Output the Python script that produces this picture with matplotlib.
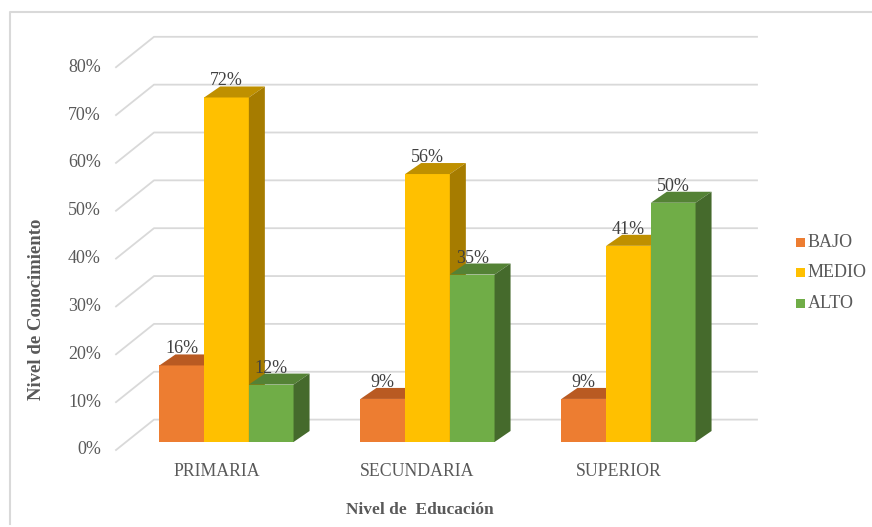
import matplotlib
matplotlib.use("Agg")
import matplotlib.pyplot as plt
from matplotlib.patches import Polygon, Rectangle

categories = ["PRIMARIA", "SECUNDARIA", "SUPERIOR"]
series = ["BAJO", "MEDIO", "ALTO"]
bajo = [16, 9, 9]
medio = [72, 56, 41]
alto = [12, 35, 50]
yticks = [0, 10, 20, 30, 40, 50, 60, 70, 80]

front_cols = ["#ED7D31", "#FFC000", "#70AD47"]
top_cols = ["#B95A22", "#BF9000", "#548235"]
side_cols = ["#A24B1B", "#A67C00", "#456A2C"]

plt.rcParams['font.family'] = ['Liberation Serif', 'DejaVu Serif']

W, H = 872, 527
fig = plt.figure(figsize=(W / 100, H / 100), dpi=100)
ax = fig.add_axes([0, 0, 1, 1])
# 1 category unit = 201 px, 1 % = 4.785 px ; origin at bar front plane
ax.set_xlim(-226.5 / 201, (W - 226.5) / 201)
ax.set_ylim((442 - H) / 4.785, 442 / 4.785)
ax.axis("off")

pxx = 1 / 201.0
pxy = 1 / 4.785
# depth offsets (data units)
fdx, fdy = -10 * pxx, -8 * pxy      # front plane (labels)
wdx, wdy = 28 * pxx, 22.4 * pxy     # back wall
bdx, bdy = 16 * pxx, 11 * pxy       # bar depth

grid_c = "#D9D9D9"
txt_c = "#595959"

# outer chart border
ax.plot([10 * pxx - 226.5 / 201, 10 * pxx - 226.5 / 201, W * pxx],
        [(442 - H) / 4.785 + 3 * pxy, 442 / 4.785 - 12 * pxy, 442 / 4.785 - 12 * pxy],
        color=grid_c, lw=1.5, zorder=0, clip_on=False)

x0, x1 = -0.5, len(categories) - 0.5
for v in yticks:
    ax.plot([x0 + fdx, x0 + wdx, x1 + wdx], [v + fdy, v + wdy, v + wdy],
            color=grid_c, lw=1.3, zorder=1)
    ax.text(x0 + fdx - 15 * pxx, v + fdy, f"{v}%", ha="right", va="center",
            fontsize=13, color=txt_c)

bw = 44.7 * pxx
vals = [bajo, medio, alto]
for i, cat in enumerate(categories):
    for j in range(3):
        v = vals[j][i]
        xl = i + (j - 1.5) * bw
        xr = xl + bw
        z = 5 + j
        ax.add_patch(Rectangle((xl, 0), bw, v, facecolor=front_cols[j],
                               edgecolor="none", zorder=z))
        ax.add_patch(Polygon([(xl, v), (xr, v), (xr + bdx, v + bdy), (xl + bdx, v + bdy)],
                             closed=True, facecolor=top_cols[j], edgecolor="none", zorder=z))
        ax.add_patch(Polygon([(xr, 0), (xr + bdx, bdy), (xr + bdx, v + bdy), (xr, v)],
                             closed=True, facecolor=side_cols[j], edgecolor="none", zorder=z))
        ax.text(xl + bw / 2, v + bdy + 1 * pxy, f"{v}%", ha="center", va="baseline",
                fontsize=13, color="#404040", zorder=20)
    ax.text(i + fdx, -30 * pxy, cat, ha="center", va="center", fontsize=12.8, color=txt_c)

# axis titles
ax.text((420 - 226.5) * pxx, (442 - 510) * pxy, "Nivel de  Educación", ha="center",
        va="center", fontsize=12.5, fontweight="bold", color=txt_c)
ax.text((37 - 226.5) * pxx, (442 - 309) * pxy, "Nivel de Conocimiento", ha="center",
        va="center", rotation=90, fontsize=13.5, fontweight="bold", color=txt_c)

# legend
for j, name in enumerate(series):
    yc = (442 - (242 + 30.5 * j)) * pxy
    ax.add_patch(Rectangle(((796 - 226.5) * pxx, yc - 4.5 * pxy), 9 * pxx, 9 * pxy,
                           facecolor=front_cols[j], edgecolor="none"))
    ax.text((808 - 226.5) * pxx, yc, name, ha="left", va="center", fontsize=13, color=txt_c)

fig.savefig("out.png", dpi=100)
